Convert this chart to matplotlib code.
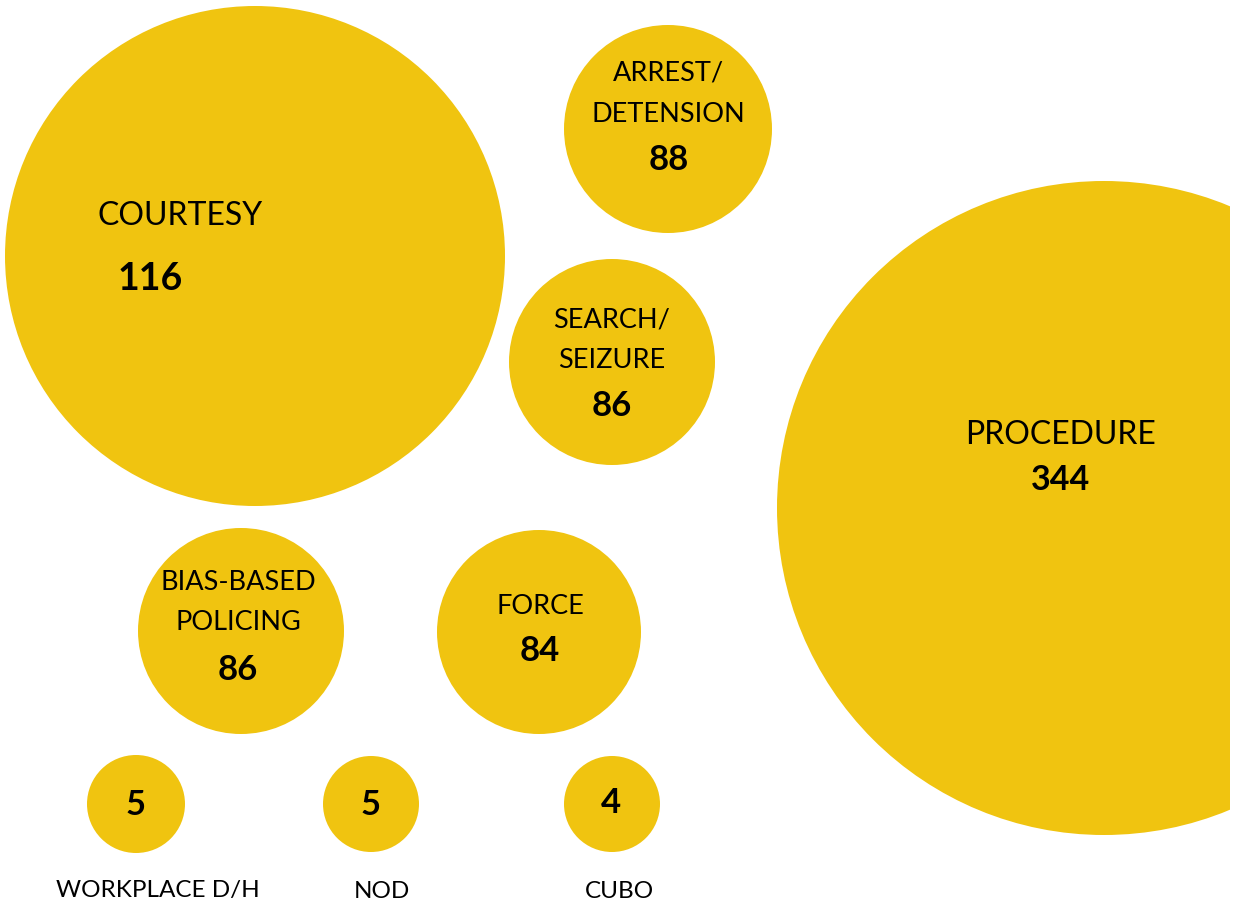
import matplotlib.pyplot as plt
from matplotlib.patches import Circle, Rectangle

# complaint categories and counts
categories = ['COURTESY', 'ARREST/\nDETENSION', 'SEARCH/\nSEIZURE', 'PROCEDURE',
              'BIAS-BASED\nPOLICING', 'FORCE', 'WORKPLACE D/H', 'NOD', 'CUBO']
counts = [116, 88, 86, 344, 86, 84, 5, 5, 4]

# layout (pixel units): centre x, centre y, radius
centers_x = [255, 668, 612, 1104, 241, 539, 136, 371, 612]
centers_y = [256, 129, 362, 508, 631, 632, 804, 804, 804]
radii = [250, 104, 103, 327, 103, 102, 49, 48, 48]
# where the name (first line) and the number sit
name_xy = [(180, 216), (668, 73), (612, 320), (1061, 435), (238, 582),
           (540, 606), (158, 891), (382, 891), (619, 891)]
num_xy = [(150, 279), (669, 160), (612, 406), (1061, 480), (238, 670),
          (540, 651), (136, 805), (371, 805), (611, 803)]

YELLOW = '#F0C410'
FONT = 'Lato'

W, H = 1233, 907
fig = plt.figure(figsize=(W / 100, H / 100), dpi=100)
ax = fig.add_axes([0, 0, 1, 1])
ax.set_xlim(0, W)
ax.set_ylim(H, 0)
ax.set_aspect('equal')
ax.axis('off')

clip = Rectangle((0, 0), 1230, H, transform=ax.transData)

for i, (cat, n) in enumerate(zip(categories, counts)):
    c = Circle((centers_x[i], centers_y[i]), radii[i], color=YELLOW, lw=0)
    ax.add_patch(c)
    c.set_clip_path(clip)

    big = cat in ('COURTESY', 'PROCEDURE')
    name_size = 23 if big else (17.5 if n < 10 else 19.5)
    num_size = 27 if cat == 'COURTESY' else (24.5 if big else 25)

    nx, ny = name_xy[i]
    for k, line in enumerate(cat.split('\n')):
        ax.text(nx, ny + 41 * k, line, ha='center', va='center',
                fontsize=name_size, family=FONT)
    mx, my = num_xy[i]
    ax.text(mx, my, str(n), ha='center', va='center', fontsize=num_size,
            fontweight='bold', family=FONT)

fig.savefig('out.png', dpi=100)
